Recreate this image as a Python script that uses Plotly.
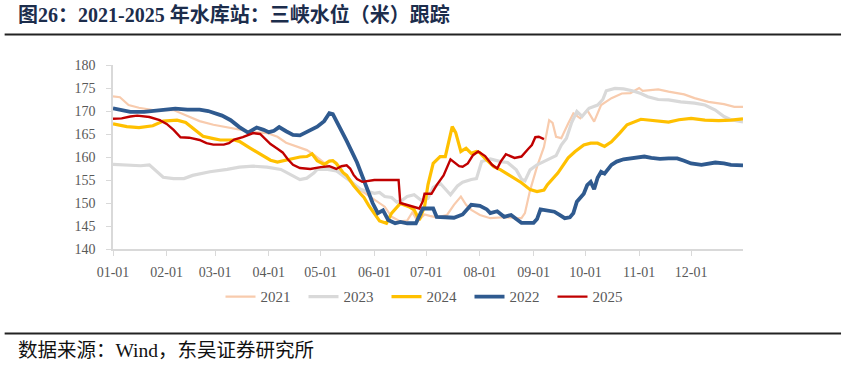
import pandas as pd
import plotly.graph_objects as go

# Day offsets from 01-01 and water level (m)
days_2021 = [0, 4, 9, 15, 23, 35, 42, 50, 58, 66, 73, 81, 89, 95, 100, 106, 112, 116, 121, 126,
             131, 137, 143, 148, 153, 157, 161, 166, 170, 173, 176, 180, 183, 187, 193, 197, 201,
             204, 207, 212, 218, 226, 234, 236, 238, 241, 245, 249, 252, 254, 256, 259, 263, 266,
             270, 274, 278, 282, 288, 294, 299, 304, 306, 315, 321, 330, 336, 344, 353, 359, 364]
vals_2021 = [173.2, 173.0, 171.3, 170.7, 170.2, 170.2, 169.1, 167.8, 167.0, 166.4, 165.9, 165.4,
             165.2, 164.4, 163.1, 162.3, 161.5, 160.5, 159.0, 157.6, 156.8, 155.0, 152.8, 151.5,
             150.3, 149.2, 147.0, 146.0, 146.2, 148.0, 146.0, 147.5, 147.2, 146.9, 147.4, 149.6,
             151.4, 149.6, 148.5, 147.4, 146.7, 146.9, 146.7, 146.7, 147.8, 152.8, 157.9, 162.2,
             168.0, 167.4, 164.4, 164.1, 167.3, 169.5, 168.4, 170.2, 167.7, 171.3, 172.8, 173.8,
             173.9, 175.0, 174.4, 174.7, 174.2, 173.6, 172.8, 172.0, 171.5, 170.9, 170.9]

days_2023 = [0, 10, 16, 21, 25, 29, 35, 41, 46, 56, 66, 73, 81, 89, 97, 104, 108, 112, 116, 118,
             124, 129, 133, 137, 143, 148, 151, 154, 157, 161, 164, 167, 170, 174, 178, 182, 185,
             189, 192, 195, 199, 202, 207, 210, 213, 218, 224, 228, 233, 236, 238, 241, 245, 251,
             256, 259, 262, 265, 268, 271, 275, 280, 283, 285, 290, 295, 300, 305, 309, 315, 321,
             328, 336, 342, 348, 353, 357, 364]
vals_2023 = [158.4, 158.2, 158.1, 158.3, 157.0, 155.6, 155.3, 155.3, 156.0, 156.8, 157.3, 157.8,
             158.0, 157.8, 157.3, 155.8, 155.1, 155.4, 156.5, 157.3, 157.3, 157.0, 156.0, 154.8,
             153.0, 152.4, 152.1, 152.3, 151.4, 151.2, 150.2, 150.6, 151.4, 151.8, 150.6, 151.0,
             153.4, 154.3, 153.0, 151.8, 153.7, 154.5, 155.1, 155.3, 159.0, 159.6, 159.0, 158.8,
             157.2, 155.2, 154.8, 157.2, 158.3, 159.3, 160.3, 162.6, 164.1, 167.5, 169.9, 168.8,
             170.6, 171.3, 172.5, 174.4, 174.9, 174.8, 174.4, 173.8, 173.1, 172.5, 172.4, 172.0,
             171.7, 171.3, 170.2, 168.8, 168.1, 167.6]

days_2024 = [0, 8, 15, 23, 29, 37, 42, 48, 52, 58, 62, 70, 73, 79, 85, 91, 95, 100, 108, 112, 115,
             118, 122, 125, 127, 129, 133, 135, 139, 143, 145, 148, 151, 154, 158, 161, 166, 171,
             174, 177, 180, 182, 185, 189, 192, 194, 196, 198, 201, 204, 207, 210, 212, 216, 220,
             224, 230, 236, 241, 245, 249, 251, 257, 263, 267, 272, 276, 280, 284, 288, 293, 297,
             305, 313, 321, 327, 334, 342, 350, 357, 364]
vals_2024 = [167.2, 166.6, 166.4, 166.8, 167.8, 168.0, 167.5, 165.7, 164.5, 164.0, 163.7, 163.7,
             163.4, 162.0, 160.6, 159.3, 158.9, 159.3, 160.0, 160.1, 160.7, 159.2, 158.4, 159.1,
             159.2, 158.6, 156.6, 156.0, 153.8, 152.0, 151.2, 149.3, 147.8, 146.1, 145.6, 147.8,
             149.9, 149.2, 148.5, 146.3, 149.2, 154.0, 158.6, 160.1, 160.1, 163.7, 166.6, 165.3,
             161.2, 161.9, 160.8, 161.2, 160.9, 159.3, 157.9, 157.2, 155.7, 154.4, 152.9, 152.5,
             152.8, 154.0, 156.5, 159.8, 161.2, 162.6, 163.0, 163.0, 162.3, 163.3, 165.3, 167.0,
             168.2, 167.9, 167.6, 168.1, 168.4, 168.0, 167.9, 168.0, 168.3]

days_2022 = [0, 5, 10, 18, 25, 31, 36, 43, 50, 55, 59, 63, 68, 73, 78, 83, 87, 90, 93, 96, 100,
             104, 108, 112, 118, 122, 125, 127, 130, 135, 141, 147, 150, 153, 156, 159, 163, 166,
             170, 175, 177, 179, 185, 187, 192, 197, 202, 207, 212, 216, 218, 222, 226, 230, 233,
             236, 243, 245, 247, 251, 255, 258, 261, 264, 266, 268, 272, 274, 276, 278, 280, 282,
             284, 288, 291, 295, 300, 307, 311, 316, 321, 326, 330, 334, 340, 344, 348, 353, 357,
             364]
vals_2022 = [170.6, 170.1, 169.8, 169.8, 170.1, 170.2, 170.5, 170.3, 170.3, 170.0, 169.6, 169.0,
             168.0, 166.5, 165.3, 166.4, 165.9, 165.4, 165.7, 166.5, 165.6, 164.8, 164.7, 165.4,
             166.6, 167.8, 169.5, 169.3, 167.2, 163.5, 158.8, 152.8, 150.0, 147.8, 148.4, 146.3,
             145.6, 145.9, 145.6, 145.6, 147.0, 148.8, 148.8, 147.0, 146.9, 146.8, 147.5, 149.6,
             149.4, 148.6, 147.8, 148.2, 147.0, 147.4, 146.5, 145.7, 145.7, 146.5, 148.6, 148.4,
             148.1, 147.4, 146.7, 146.9, 147.8, 150.3, 152.0, 153.9, 154.6, 153.0, 155.5, 156.8,
             156.4, 158.3, 159.0, 159.5, 159.8, 160.1, 159.8, 159.6, 159.7, 159.7, 159.2, 158.6,
             158.3, 158.6, 158.8, 158.6, 158.3, 158.2]

days_2025 = [0, 5, 10, 14, 21, 27, 31, 35, 39, 44, 50, 54, 58, 64, 67, 70, 75, 81, 85, 88, 91,
             95, 98, 101, 104, 108, 114, 120, 125, 129, 132, 135, 137, 139, 141, 144, 151, 158,
             165, 166, 170, 174, 177, 179, 180, 184, 187, 191, 195, 200, 202, 205, 208, 211, 215,
             219, 222, 224, 227, 232, 236, 240, 242, 244, 246, 249]
vals_2025 = [168.3, 168.4, 168.8, 169.0, 168.7, 168.0, 167.2, 165.9, 164.3, 164.2, 163.7, 163.0,
             162.7, 162.7, 163.0, 163.8, 164.3, 165.2, 165.0, 164.0, 162.8, 161.8, 161.0, 159.5,
             158.3, 157.6, 157.4, 157.8, 158.0, 157.4, 158.0, 158.2, 157.5, 156.1, 155.2, 154.6,
             155.0, 155.0, 155.0, 150.0, 149.6, 149.2, 148.8, 150.4, 152.0, 152.0, 153.9, 156.0,
             159.5, 158.0, 157.9, 158.6, 160.4, 161.2, 160.2, 158.3, 157.5, 159.0, 160.6, 159.8,
             160.1, 161.8, 162.6, 164.3, 164.4, 163.9]

series_names = ["2021", "2023", "2024", "2022", "2025"]
series_days = [days_2021, days_2023, days_2024, days_2022, days_2025]
series_vals = [vals_2021, vals_2023, vals_2024, vals_2022, vals_2025]
series_colors = ["#F8CBAD", "#D9D9D9", "#FFC000", "#2F5A8F", "#C00000"]
series_widths = [2.2, 3.2, 3.2, 3.8, 2.4]

y_ticks = [140, 145, 150, 155, 160, 165, 170, 175, 180]

base = pd.Timestamp("2021-01-01")

fig = go.Figure()
for name, d, v, c, w in zip(series_names, series_days, series_vals, series_colors, series_widths):
    x = base + pd.to_timedelta(d, unit="D")
    fig.add_trace(go.Scatter(x=x, y=v, mode="lines", name=name,
                             line=dict(color=c, width=w)))

serif = "Liberation Serif, Times New Roman, serif"
tick_font = dict(family=serif, size=14, color="#595959")

fig.update_layout(
    width=845, height=365,
    margin=dict(l=113, r=102, t=65, b=116),
    paper_bgcolor="white", plot_bgcolor="white",
    showlegend=True,
    legend=dict(orientation="h", x=0.5, xanchor="center", y=-0.26, yanchor="middle",
                font=dict(family=serif, size=15, color="#595959"),
                entrywidth=38, bgcolor="rgba(0,0,0,0)"),
    xaxis=dict(type="date", range=["2021-01-01", "2021-12-31"],
               tick0="2021-01-01", dtick="M1", tickformat="%m-%d",
               showgrid=False, zeroline=False,
               showline=True, linecolor="#D9D9D9", linewidth=1.5,
               ticks="outside", ticklen=5, tickcolor="#D9D9D9", tickwidth=1.2,
               tickfont=tick_font, ticklabelstandoff=4),
    yaxis=dict(range=[140, 180], tickvals=y_ticks,
               showgrid=False, zeroline=False,
               showline=True, linecolor="#D9D9D9", linewidth=1.5,
               ticks="outside", ticklen=5, tickcolor="#D9D9D9", tickwidth=1.2,
               tickfont=tick_font, ticklabelstandoff=8),
    annotations=[
        dict(text="<b>图26：2021-2025 年水库站：三峡水位（米）跟踪</b>",
             xref="paper", yref="paper", x=-0.154, y=1.272,
             xanchor="left", yanchor="middle", showarrow=False,
             font=dict(family="Liberation Serif, Noto Sans CJK SC", size=20, color="#1C2D4C")),
        dict(text="数据来源：Wind，东吴证券研究所",
             xref="paper", yref="paper", x=-0.154, y=-0.549,
             xanchor="left", yanchor="middle", showarrow=False,
             font=dict(family="Liberation Serif, Noto Sans CJK SC", size=19.5, color="#111111")),
    ],
    shapes=[
        dict(type="line", xref="paper", yref="paper", x0=-0.172, x1=1.1556, y0=1.166, y1=1.166,
             line=dict(color="#222222", width=2)),
        dict(type="line", xref="paper", yref="paper", x0=-0.172, x1=1.1556, y0=-0.459, y1=-0.459,
             line=dict(color="#222222", width=2)),
    ],
)

fig.write_html("out.html", config={"displayModeBar": False},
               post_script="document.body.style.margin='0px';")
